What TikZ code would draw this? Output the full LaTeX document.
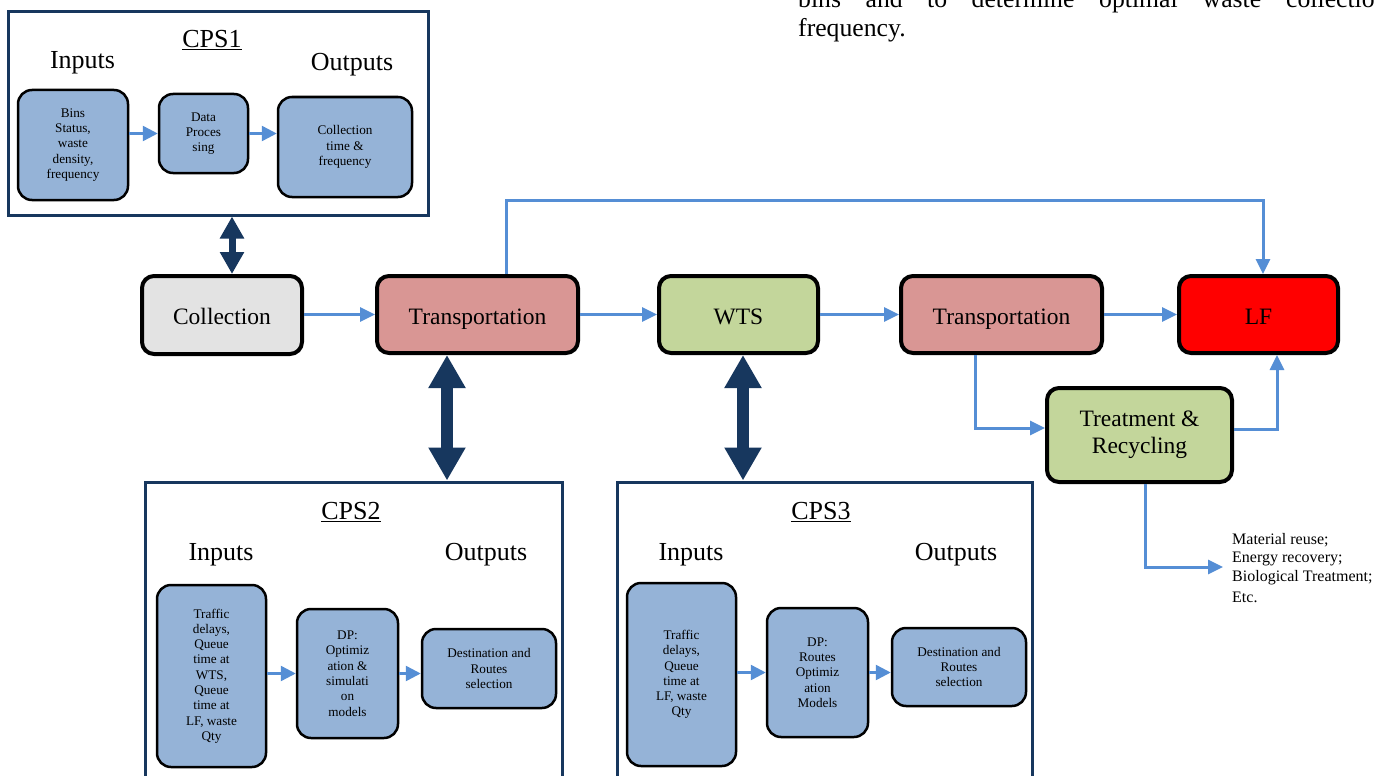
\documentclass[tikz,border=0pt]{standalone}
\usepackage{fontspec}
\setmainfont{Liberation Serif}
\usetikzlibrary{arrows.meta}
\definecolor{boxblue}{RGB}{149,179,215}
\definecolor{collgray}{RGB}{227,227,227}
\definecolor{trpink}{RGB}{217,150,148}
\definecolor{wtsgreen}{RGB}{195,214,155}
\definecolor{flowblue}{RGB}{85,142,213}
\definecolor{navy}{RGB}{23,55,94}
\begin{document}
\begin{tikzpicture}[x=1pt,y=-1pt,
  mainbox/.style={draw=black, line width=4pt, rounded corners=12pt, inner sep=0pt, align=center, font=\fontsize{23.5}{27}\selectfont},
  oneline/.style={text height=19pt, text depth=0pt},
  subbox/.style={draw=black, line width=2.5pt, rounded corners=14pt, fill=boxblue, inner sep=0pt, align=center, font=\fontsize{13.2}{15.3}\selectfont},
  cpsbox/.style={draw=navy, line width=3pt, inner sep=0pt},
  heading/.style={font=\fontsize{26}{30}\selectfont, inner sep=0pt},
  bodytext/.style={font=\fontsize{25.7}{29}\selectfont, inner sep=0pt, anchor=base west},
  flow/.style={draw=flowblue, line width=3pt, -{Triangle[length=15pt,width=14pt]}},
  innerflow/.style={draw=flowblue, line width=2.5pt, -{Triangle[length=15pt,width=15pt]}},
  bigdbl/.style={draw=navy, line width=12pt, {Triangle[length=33pt,width=35pt]}-{Triangle[length=33pt,width=35pt]}},
  smalldbl/.style={draw=navy, line width=7pt, {Triangle[length=22pt,width=23pt]}-{Triangle[length=22pt,width=23pt]}}
]
\useasboundingbox (0,0) rectangle (1374,776);
\clip (0,0) rectangle (1374,776);
\fill[white] (0,0) rectangle (1374,776);

% top body text (cut off at the top edge, as in the reference)
\node[bodytext] (w1) at (798,7.5) {bins};
\node[bodytext] (w2) at (865.5,7.5) {and};
\node[bodytext] (w3) at (927,7.5) {to};
\node[bodytext] (w4) at (971.5,7.5) {determine};
\node[bodytext] (w5) at (1099,7.5) {optimal};
\node[bodytext] (w6) at (1202.5,7.5) {waste};
\node[bodytext] (w7) at (1286,7.5) {collection};
\node[bodytext] (w8) at (798,36.5) {frequency.};

% CPS1
\node[cpsbox, minimum width=420pt, minimum height=203pt] (cps1) at (218,113.5) {};
\node[heading] (t1) at (212,40) {\underline{CPS1}};
\node[heading] (in1) at (82.5,63) {Inputs};
\node[heading] (out1) at (352,65) {Outputs};
\node[subbox, minimum width=110pt, minimum height=110pt] (b11) at (73,145) {Bins\\Status,\\waste\\density,\\frequency};
\node[subbox, minimum width=89pt, minimum height=79pt] (b12) at (203.5,133.5) {Data\\Proces\\sing};
\node[subbox, minimum width=134pt, minimum height=100pt] (b13) at (345,147) {Collection\\time \&\\frequency};
\draw[innerflow] (b11.east |- b12) -- (b12.west);
\draw[innerflow] (b12.east) -- (b13.west |- b12);

% main chain
\node[mainbox, oneline, fill=collgray, minimum width=160pt, minimum height=78pt] (coll) at (222,315) {Collection};
\node[mainbox, oneline, fill=trpink, minimum width=201pt, minimum height=77pt] (tr1) at (477.5,314.5) {Transportation};
\node[mainbox, oneline, fill=wtsgreen, minimum width=159pt, minimum height=77pt] (wts) at (738.5,314.5) {WTS};
\node[mainbox, oneline, fill=trpink, minimum width=201pt, minimum height=77pt] (tr2) at (1001.5,314.5) {Transportation};
\node[mainbox, oneline, fill=red, minimum width=159pt, minimum height=77pt] (lf) at (1258.5,314.5) {LF};
\node[mainbox, fill=wtsgreen, minimum width=185pt, minimum height=94pt] (treat) at (1139.5,435) {Treatment \&\\Recycling};
\node[anchor=west, align=left, inner sep=0pt, font=\fontsize{16}{18.5}\selectfont] (res) at (1232,568) {Material reuse;\\Energy recovery;\\Biological Treatment;\\[3pt]Etc.};

\draw[flow] (coll.east |- tr1) -- (tr1.west);
\draw[flow] (tr1.east) -- (wts.west);
\draw[flow] (wts.east) -- (tr2.west);
\draw[flow] (tr2.east) -- (lf.west);
\coordinate (r1) at (506,200);
\coordinate (r2) at (1263,200);
\draw[flow] (tr1.north -| r1) -- (r1) -- (r2) -- (lf.north -| r2);
\coordinate (r3) at (975,428);
\draw[flow] (tr2.south -| r3) -- (r3) -- (treat.west |- r3);
\coordinate (r4) at (1277,429);
\draw[flow] (treat.east |- r4) -- (r4) -- (lf.south -| r4);
\coordinate (r5) at (1145,567);
\draw[flow, shorten >=9pt] (treat.south -| r5) -- (r5) -- (res.west |- r5);

% CPS2
\node[cpsbox, minimum width=417pt, minimum height=318pt] (cps2) at (353.5,641) {};
\node[heading] (t2) at (351,512) {\underline{CPS2}};
\node[heading] (in2) at (221,555) {Inputs};
\node[heading] (out2) at (486,555) {Outputs};
\node[subbox, minimum width=109pt, minimum height=182pt] (b21) at (211.5,676) {Traffic\\delays,\\Queue\\time at\\WTS,\\Queue\\time at\\LF, waste\\Qty};
\node[subbox, minimum width=101pt, minimum height=129pt] (b22) at (347.5,673.5) {DP:\\Optimiz\\ation \&\\simulati\\on\\models};
\node[subbox, minimum width=134pt, minimum height=79pt] (b23) at (489,668.5) {Destination and\\Routes\\selection};
\draw[innerflow] (b21.east |- b22) -- (b22.west);
\draw[innerflow] (b22.east) -- (b23.west |- b22);

% CPS3
\node[cpsbox, minimum width=415pt, minimum height=318pt] (cps3) at (824.5,641) {};
\node[heading] (t3) at (821,512) {\underline{CPS3}};
\node[heading] (in3) at (691,555) {Inputs};
\node[heading] (out3) at (956,555) {Outputs};
\node[subbox, minimum width=109pt, minimum height=183pt] (b31) at (681.5,674.5) {Traffic\\delays,\\Queue\\time at\\LF, waste\\Qty};
\node[subbox, minimum width=101pt, minimum height=129pt] (b32) at (817.5,672.5) {DP:\\Routes\\Optimiz\\ation\\Models};
\node[subbox, minimum width=134pt, minimum height=78pt] (b33) at (959,667) {Destination and\\Routes\\selection};
\draw[innerflow] (b31.east |- b32) -- (b32.west);
\draw[innerflow] (b32.east) -- (b33.west |- b32);

% CPS links
\coordinate (d1) at (232,0);
\draw[smalldbl] (cps1.south -| d1) -- (coll.north -| d1);
\coordinate (d2) at (447,0);
\draw[bigdbl] (tr1.south -| d2) -- (cps2.north -| d2);
\coordinate (d3) at (743,0);
\draw[bigdbl] (wts.south -| d3) -- (cps3.north -| d3);
\end{tikzpicture}
\end{document}
